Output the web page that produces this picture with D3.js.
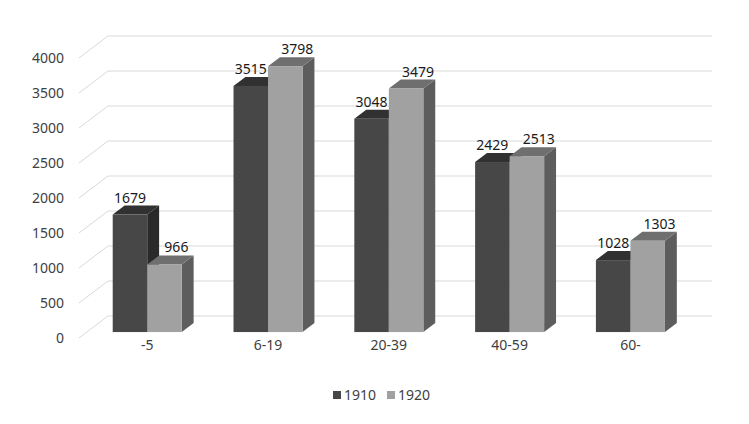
<!DOCTYPE html>
<html>
<head>
<meta charset="utf-8">
<script src="https://cdn.jsdelivr.net/npm/d3@7"></script>
<style>
  body { margin: 0; background: #fff; }
  text { font-family: "Noto Sans", sans-serif; }
</style>
</head>
<body>
<script>
// Chart data
var categories = ["-5", "6-19", "20-39", "40-59", "60-"];
var series = ["1910", "1920"];
var values1910 = [1679, 3515, 3048, 2429, 1028];
var values1920 = [966, 3798, 3479, 2513, 1303];
var yTicks = [0, 500, 1000, 1500, 2000, 2500, 3000, 3500, 4000];

var svgWidth = 749;
var svgHeight = 424;

// front plane of the 3D box, depth vector goes back and up
var front = { left: 79, right: 683, bottom: 338, top: 58 };
var depth = { dx: 29, dy: -22 };
var barT0 = 0.27, barT1 = 0.68;
var fontSize = "14px";

var colors = {
  "1910": { front: "#474747", top: "#313131", side: "#2a2a2a" },
  "1920": { front: "#a1a1a1", top: "#6f6f6f", side: "#5d5d5d" }
};

var svg = d3.select("body")
  .append("svg")
  .attr("width", svgWidth)
  .attr("height", svgHeight);

var x = d3.scaleBand()
  .domain(categories)
  .range([front.left, front.right]);

var xSub = d3.scaleBand()
  .domain(series)
  .range([0, x.bandwidth()])
  .paddingOuter(0.75);

var y = d3.scaleLinear()
  .domain([0, 4000])
  .range([front.bottom, front.top]);

// project a point on front plane to depth t
function px(xf, t) { return xf + depth.dx * t; }
function py(yf, t) { return yf + depth.dy * t; }

// gridlines: diagonal on the side wall + line on back wall
var grid = svg.append("g");
yTicks.forEach(function(v) {
  var path = d3.path();
  path.moveTo(front.left, y(v));
  path.lineTo(px(front.left, 1), py(y(v), 1));
  path.lineTo(px(front.right, 1), py(y(v), 1));
  grid.append("path")
    .attr("d", path.toString())
    .attr("fill", "none")
    .attr("stroke", "#d9d9d9")
    .attr("stroke-width", 1);
});

// y tick labels
var leftAxis = d3.axisLeft(y)
  .tickValues(yTicks)
  .tickFormat(d3.format("d"))
  .tickSize(0)
  .tickPadding(15);
var yAxisG = svg.append("g")
  .attr("transform", `translate(${front.left}, 0)`)
  .call(leftAxis);
yAxisG.select(".domain").remove();
yAxisG.selectAll("text")
  .attr("fill", "#404040")
  .style("font-size", fontSize)
  .style("font-family", "Noto Sans, sans-serif");

// bars
var bars = [];
categories.forEach(function(c, i) {
  bars.push({ cat: c, s: "1910", v: values1910[i] });
  bars.push({ cat: c, s: "1920", v: values1920[i] });
});

function poly(pts) { return pts.map(p => p.join(",")).join(" "); }

var dT = barT1 - barT0;
var barG = svg.append("g");
bars.forEach(function(d) {
  var xa = px(x(d.cat) + xSub(d.s), barT0);
  var xb = xa + xSub.bandwidth();
  var yt = py(y(d.v), barT0);
  var yb = py(y(0), barT0);
  var ox = depth.dx * dT, oy = depth.dy * dT;
  var g = barG.append("g");
  g.append("polygon")
    .attr("points", poly([[xb, yt], [xb + ox, yt + oy], [xb + ox, yb + oy], [xb, yb]]))
    .attr("fill", colors[d.s].side);
  g.append("polygon")
    .attr("points", poly([[xa, yt], [xb, yt], [xb + ox, yt + oy], [xa + ox, yt + oy]]))
    .attr("fill", colors[d.s].top);
  g.append("rect")
    .attr("x", xa)
    .attr("y", yt)
    .attr("width", xSub.bandwidth())
    .attr("height", yb - yt)
    .attr("fill", colors[d.s].front);

  // data label
  var shift = d.s === "1920" ? ox : 0;
  svg.append("text")
    .attr("x", (xa + xb) / 2 + shift)
    .attr("y", yt - 12)
    .attr("text-anchor", "middle")
    .attr("fill", "#1a1a1a")
    .style("font-size", fontSize)
    .text(d.v);
});

// category labels
categories.forEach(function(c) {
  svg.append("text")
    .attr("x", px(x(c) + x.bandwidth() / 2, barT0))
    .attr("y", 350)
    .attr("text-anchor", "middle")
    .attr("fill", "#404040")
    .style("font-size", fontSize)
    .text(c);
});

// legend
var legend = svg.append("g").attr("transform", "translate(333, 395)");
series.forEach(function(s, i) {
  var lg = legend.append("g").attr("transform", `translate(${i * 54}, 0)`);
  lg.append("rect")
    .attr("x", 0).attr("y", -4)
    .attr("width", 8).attr("height", 8)
    .attr("fill", colors[s].front);
  lg.append("text")
    .attr("x", 11).attr("y", 5)
    .attr("fill", "#404040")
    .style("font-size", fontSize)
    .text(s);
});
</script>
</body>
</html>
